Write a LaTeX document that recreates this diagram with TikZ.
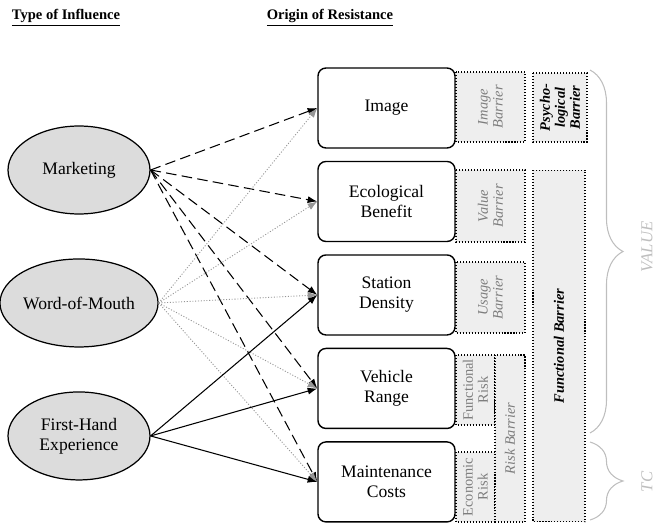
\documentclass[tikz,border=0pt]{standalone}
\usepackage{fontspec}
\setmainfont{Liberation Serif}
\usetikzlibrary{shapes.geometric,decorations.pathreplacing,arrows.meta}
\definecolor{ovalgray}{RGB}{220,220,220}
\definecolor{bargray}{RGB}{238,238,238}
\definecolor{txtgray}{RGB}{125,125,125}
\definecolor{dotgray}{RGB}{150,150,150}
\definecolor{bracegray}{RGB}{190,190,190}
\newcommand{\barfont}{\fontsize{8.2}{8.5}\selectfont}
\tikzset{every node/.style={align=center}, >= {Latex[length=5.5pt,width=4pt]}, font=\fontsize{10}{11.5}\selectfont}
\tikzset{
  influence/.style={ellipse, draw, line width=0.7pt, fill=ovalgray, minimum width=2.84cm, minimum height=1.76cm, inner sep=0pt},
  origin/.style={rectangle, draw, rounded corners=4.5pt, line width=0.8pt, minimum width=2.74cm, minimum height=1.6cm, inner sep=0pt},
  barrier/.style={rectangle, draw, line width=0.6pt, dash pattern=on 0.6pt off 1.1pt, fill=bargray, rotate=90, inner sep=0pt, font=\barfont},
  mktline/.style={line width=0.6pt, dash pattern=on 6pt off 3pt},
  wordline/.style={dotgray, line width=0.5pt, dash pattern=on 0.6pt off 1pt},
  handline/.style={line width=0.6pt},
  bracelabel/.style={rotate=90, text=bracegray, font=\fontsize{9.5}{10}\selectfont\itshape}
}
\begin{document}
\begin{tikzpicture}[x=0.02cm, y=0.02cm]
            \useasboundingbox (0,0) rectangle (654,-524);
            % headings
            \node (infhead) at (66,-18) {\fontsize{8.3}{9}\selectfont\underline{\textbf{Type of Influence}}};
            \node (reshead) at (330,-18) {\fontsize{8.3}{9}\selectfont\underline{\textbf{Origin of Resistance}}};
            % types of influence
            \node [influence] (mkt) at (79,-170) {Marketing};
            \node [influence, node distance=2.66cm] (wom) [below of = mkt] {Word-of-Mouth};
            \node [influence, node distance=2.66cm] (fhe) [below of = wom] {First-Hand\\ Experience};
            % origins of resistance
            \node [origin] (img) at (386.5,-108) {Image};
            \node [origin, node distance=1.87cm] (eco) [below of = img] {Ecological\\ Benefit};
            \node [origin, node distance=1.87cm] (sta) [below of = eco] {Station\\ Density};
            \node [origin, node distance=1.87cm] (veh) [below of = sta] {Vehicle\\ Range};
            \node [origin, node distance=1.87cm] (mnt) [below of = veh] {Maintenance\\ Costs};
            % barriers
            \node [barrier, minimum width=1.4cm, minimum height=1.38cm, text=txtgray] (ibar) at (490.5,-107) {\itshape Image\\ \itshape Barrier};
            \node [barrier, minimum width=1.44cm, minimum height=1.38cm, text=txtgray] (vbar) at (490.5,-206) {\itshape Value\\ \itshape Barrier};
            \node [barrier, minimum width=1.42cm, minimum height=1.38cm, text=txtgray] (ubar) at (490.5,-297.5) {\itshape Usage\\ \itshape Barrier};
            \node [barrier, minimum width=1.4cm, minimum height=0.78cm, text=txtgray] (frisk) at (475.5,-390) {Functional\\ Risk};
            \node [barrier, minimum width=1.4cm, minimum height=0.78cm, text=txtgray] (erisk) at (475.5,-487) {Economic\\ Risk};
            \node [barrier, minimum width=3.34cm, minimum height=0.6cm, text=txtgray] (rbar) at (510,-438.5) {\itshape Risk Barrier};
            \node [barrier, minimum width=1.38cm, minimum height=1.08cm] (pbar) at (560,-107.5) {\bfseries\itshape Psycho-\\ \bfseries\itshape logical\\ \bfseries\itshape Barrier};
            \node [barrier, minimum width=7.04cm, minimum height=1.04cm] (fbar) at (559,-346) {\bfseries\itshape Functional Barrier};
            % value and transaction cost braces
            \draw [bracegray, line width=0.6pt, decorate, decoration={brace, amplitude=0.66cm}] (590,-70) -- (590,-433);
            \draw [bracegray, line width=0.6pt, decorate, decoration={brace, amplitude=0.66cm}] (590,-442) -- (590,-520);
            \node [bracelabel] (vlabel) at (647,-247) {VALUE};
            \node [bracelabel] (tclabel) at (647,-482) {TC};
            % influences
            \path[->] (mkt.east) edge [mktline] (img.west)
                    edge [mktline] (eco.west)
                    edge [mktline] (sta.west)
                    edge [mktline] (veh.west)
                    edge [mktline] (mnt.west)
                (wom.east) edge [wordline] (img.west)
                    edge [wordline] (eco.west)
                    edge [wordline] (sta.west)
                    edge [wordline] (veh.west)
                    edge [wordline] (mnt.west)
                (fhe.east) edge [handline] (sta.west)
                    edge [handline] (veh.west)
                    edge [handline] (mnt.west);
        \end{tikzpicture}
\end{document}
